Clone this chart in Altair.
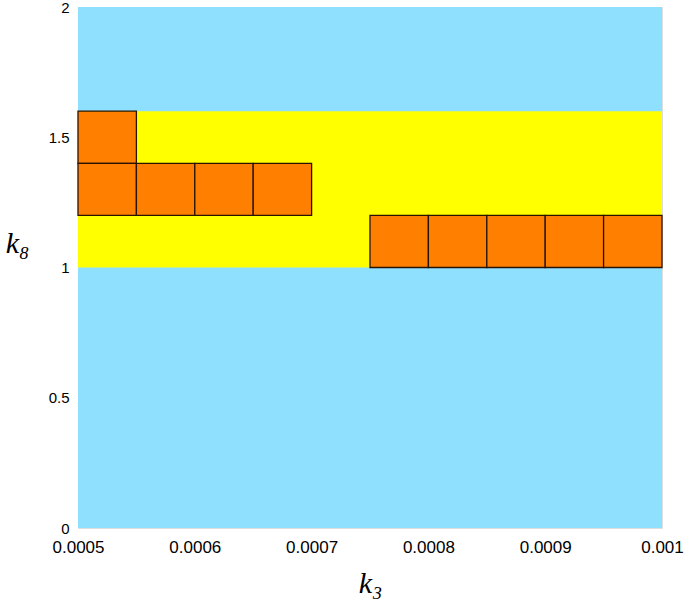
import altair as alt
import pandas as pd

# Background regions
bg_x0 = [0.0005, 0.0005]
bg_x1 = [0.001, 0.001]
bg_y0 = [0.0, 1.0]
bg_y1 = [2.0, 1.6]
bg_kind = ["blue", "yellow"]

# Orange cells (lower-left corners and upper-right corners)
cell_x0 = [0.0005, 0.0005, 0.00055, 0.0006, 0.00065,
           0.00075, 0.0008, 0.00085, 0.0009, 0.00095]
cell_x1 = [0.00055, 0.00055, 0.0006, 0.00065, 0.0007,
           0.0008, 0.00085, 0.0009, 0.00095, 0.001]
cell_y0 = [1.4, 1.2, 1.2, 1.2, 1.2, 1.0, 1.0, 1.0, 1.0, 1.0]
cell_y1 = [1.6, 1.4, 1.4, 1.4, 1.4, 1.2, 1.2, 1.2, 1.2, 1.2]

x_ticks = [0.0005, 0.0006, 0.0007, 0.0008, 0.0009, 0.001]
y_ticks = [0, 0.5, 1, 1.5, 2]

bg = pd.DataFrame({"x0": bg_x0, "x1": bg_x1, "y0": bg_y0, "y1": bg_y1, "kind": bg_kind})
cells = pd.DataFrame({"x0": cell_x0, "x1": cell_x1, "y0": cell_y0, "y1": cell_y1})

xscale = alt.Scale(domain=[0.0005, 0.001], nice=False, zero=False)
yscale = alt.Scale(domain=[0, 2], nice=False)

xaxis = alt.Axis(values=x_ticks, format="~g", title="k₃", grid=False, ticks=False,
                 domain=False, labelFontSize=17, labelFont="Liberation Sans",
                 labelColor="black", labelPadding=11, labelFlush=False,
                 titleFont="Liberation Serif", titleFontStyle="italic",
                 titleFontWeight="normal", titleFontSize=30, titlePadding=13,
                 titleColor="black")
yaxis = alt.Axis(values=y_ticks, format="~g", title="k₈", grid=False, ticks=False,
                 domain=False, labelFontSize=15, labelFont="Liberation Sans",
                 labelColor="black", labelPadding=9, labelFlush=False,
                 titleFont="Liberation Serif", titleFontStyle="italic",
                 titleFontWeight="normal", titleFontSize=30, titleAngle=0,
                 titleAlign="center", titleBaseline="middle",
                 titleX=-61, titleY=236, titleColor="black")

background = alt.Chart(bg).mark_rect(strokeWidth=0).encode(
    x=alt.X("x0:Q", scale=xscale, axis=xaxis),
    x2="x1:Q",
    y=alt.Y("y0:Q", scale=yscale, axis=yaxis),
    y2="y1:Q",
    color=alt.Color("kind:N",
                    scale=alt.Scale(domain=["blue", "yellow"], range=["#8fdfff", "#ffff00"]),
                    legend=None),
)

squares = alt.Chart(cells).mark_rect(color="#ff8000", stroke="#2a1200", strokeWidth=1.3).encode(
    x=alt.X("x0:Q", scale=xscale),
    x2="x1:Q",
    y=alt.Y("y0:Q", scale=yscale),
    y2="y1:Q",
)

chart = (background + squares).properties(
    width=584, height=521,
    autosize=alt.AutoSizeParams(type="none"),
    padding={"left": 78, "top": 7, "right": 23, "bottom": 74},
).configure_view(stroke="#8a8a8a", strokeWidth=1).configure(background="white")

chart.save("out.html", embed_options={"renderer": "svg", "actions": False})
